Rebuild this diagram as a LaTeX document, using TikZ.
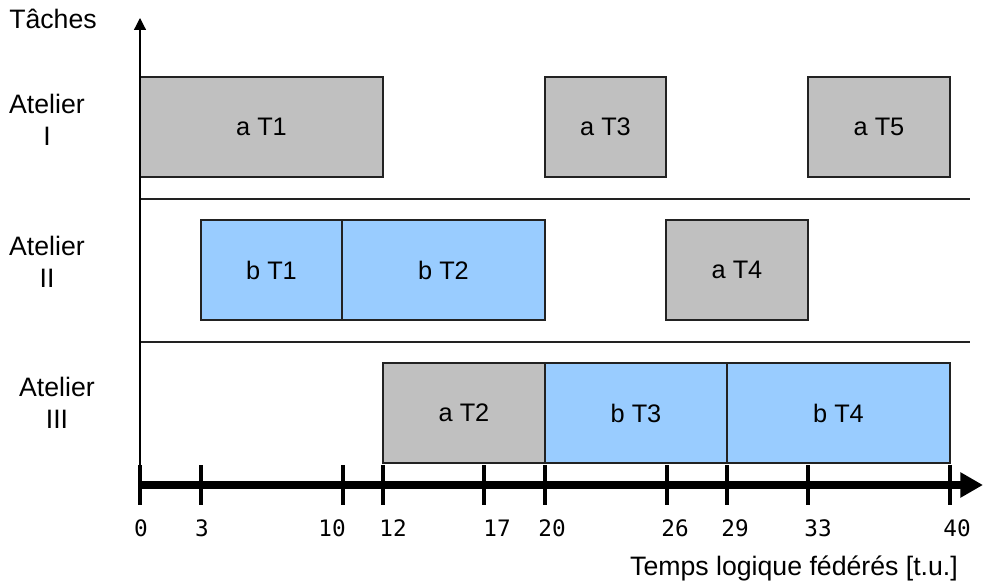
\documentclass[tikz,border=0pt]{standalone}
\usepackage{fontspec}
\setmainfont{Liberation Sans}
\newfontfamily\numfont{DejaVu Sans Mono}
\usetikzlibrary{arrows.meta}
\definecolor{taskgray}{HTML}{C0C0C0}
\definecolor{taskblue}{HTML}{99CCFF}
\definecolor{edge}{HTML}{222222}
\tikzset{
  task/.style={draw=edge, line width=1pt, inner sep=0pt, font=\fontsize{19}{22}\selectfont},
  agray/.style={task, fill=taskgray},
  bblue/.style={task, fill=taskblue},
  rowlabel/.style={align=center, font=\fontsize{20}{24}\selectfont},
  ticklab/.style={font=\numfont\fontsize{17}{19}\selectfont, inner sep=0pt},
  tickmark/.style={line width=3pt},
  sepline/.style={line width=0.9pt, draw=edge}
}
\begin{document}
\begin{tikzpicture}[x=0.75pt, y=-0.75pt]
\useasboundingbox (0,0) rectangle (983,588);
% task boxes
\node[agray, minimum width=243*0.75pt, minimum height=100*0.75pt] (aT1) at (261.5,127) {a T1};
\node[agray, minimum width=121*0.75pt, minimum height=100*0.75pt] (aT3) at (605.5,127) {a T3};
\node[agray, minimum width=142*0.75pt, minimum height=100*0.75pt] (aT5) at (879,127) {a T5};
\node[bblue, minimum width=141*0.75pt, minimum height=100*0.75pt] (bT1) at (271.5,270) {b T1};
\node[bblue, minimum width=203*0.75pt, minimum height=100*0.75pt] (bT2) at (443.5,270) {b T2};
\node[agray, minimum width=142*0.75pt, minimum height=100*0.75pt] (aT4) at (737,270) {a T4};
\node[agray, minimum width=162*0.75pt, minimum height=100*0.75pt] (aT2) at (464,413) {a T2};
\node[bblue, minimum width=182*0.75pt, minimum height=100*0.75pt] (bT3) at (636,413) {b T3};
\node[bblue, minimum width=223*0.75pt, minimum height=100*0.75pt] (bT4) at (838.5,413) {b T4};
% separators
\coordinate (s1a) at (140,199); \coordinate (s1b) at (970,199);
\coordinate (s2a) at (140,342); \coordinate (s2b) at (970,342);
\draw[sepline] (s1a) -- (s1b);
\draw[sepline] (s2a) -- (s2b);
% vertical axis
\coordinate (origin) at (140,485);
\coordinate (ytop) at (140,18);
\draw[line width=0.9pt, -{Triangle[length=9pt, width=9pt]}] (origin) -- (ytop);
% horizontal axis
\coordinate (xend) at (983,485);
\draw[line width=6pt, -{Triangle[length=17pt, width=18pt]}] (origin) -- (xend);
% ticks and labels
\foreach \v/\lx in {0/141,3/202,10/332,12/393,17/497,20/552,26/675,29/735,33/818,40/957}{
  \pgfmathsetmacro{\px}{140+20.25*\v}
  \coordinate (t\v a) at (\px,465);
  \coordinate (t\v b) at (\px,505);
  \draw[tickmark] (t\v a) -- (t\v b);
  \node[ticklab] (l\v) at (\lx,528) {\v};
}
% labels
\node[font=\fontsize{20}{22}\selectfont] (taches) at (53,19) {Tâches};
\node[rowlabel] (at1) at (47,120) {Atelier\\I};
\node[rowlabel] (at2) at (47,262) {Atelier\\II};
\node[rowlabel] (at3) at (57,403) {Atelier\\III};
\node[font=\fontsize{20}{22}\selectfont] (temps) at (794,568) {Temps logique fédérés [t.u.]};
\end{tikzpicture}
\end{document}
